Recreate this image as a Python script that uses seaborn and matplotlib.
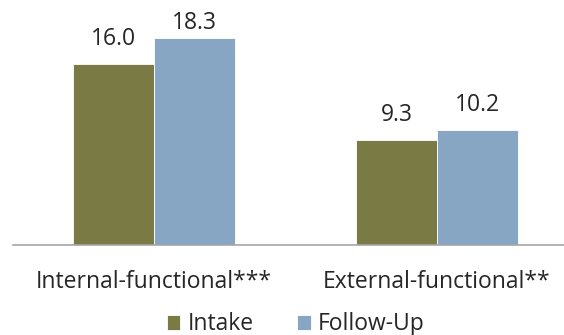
import pandas as pd
import matplotlib
matplotlib.use("Agg")
import matplotlib.pyplot as plt
import seaborn as sns

# Values
categories = ["Internal-functional***", "External-functional**"]
intake = [16.0, 9.3]
follow_up = [18.3, 10.2]
series = ["Intake", "Follow-Up"]
colors = ["#7A7A44", "#87A6C3"]

df = pd.DataFrame({
    "category": categories * 2,
    "group": [series[0]] * len(categories) + [series[1]] * len(categories),
    "value": intake + follow_up,
})

sns.set_style("white")
plt.rcParams["font.family"] = ["Open Sans", "DejaVu Sans"]
text_color = "#262626"
fs = 16.5

fig = plt.figure(figsize=(5.64, 3.35), dpi=100)
ax = fig.add_axes([12.5 / 564, 1 - 245 / 335, 566 / 564, 226 / 335])

sns.barplot(data=df, x="category", y="value", hue="group", order=categories,
            hue_order=series, palette=colors, width=0.573, ax=ax,
            edgecolor="white", linewidth=0.6, saturation=1, errorbar=None)

ax.set_xlim(-0.5, 1.5)
ax.set_ylim(0, 20)

# value labels above bars (kept inside the figure like the original)
fig_h = fig.get_size_inches()[1] * fig.dpi
for cont in ax.containers:
    for bar in cont:
        h = bar.get_height()
        x = bar.get_x() + bar.get_width() / 2
        top_px = fig_h - ax.transData.transform((x, h))[1]
        off = min(19, top_px - 29)
        ax.annotate(f"{h:.1f}", (x, h), xytext=(0, off), textcoords="offset pixels",
                    ha="center", va="baseline", fontsize=fs, color=text_color)

ax.set_xlabel("")
ax.set_ylabel("")
ax.set_yticks([])
ax.tick_params(axis="x", length=0, pad=18, labelsize=fs, labelcolor=text_color)
sns.despine(ax=ax, left=True, right=True, top=True)
ax.spines["bottom"].set_color("#A6A6A6")
ax.spines["bottom"].set_linewidth(1.2)

ax.legend(loc="lower center", bbox_to_anchor=(0.5, -0.445), ncol=2, frameon=False,
          fontsize=fs, handlelength=0.6, handleheight=0.6, handletextpad=0.3,
          columnspacing=1.9, borderaxespad=0, labelcolor=text_color)

fig.savefig("out.png", dpi=100)
